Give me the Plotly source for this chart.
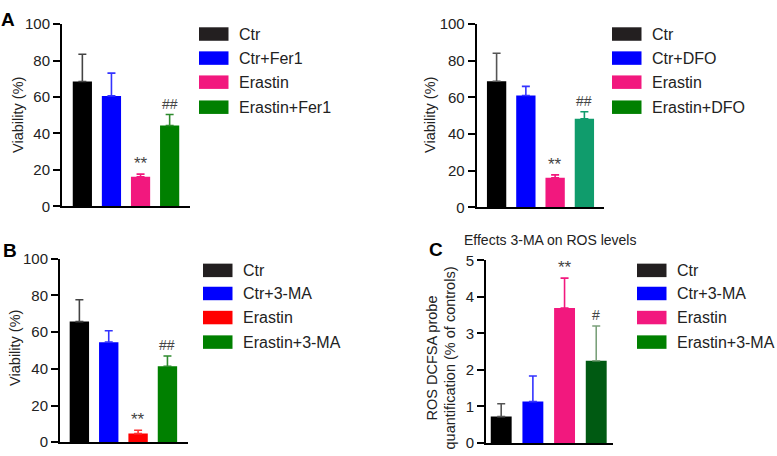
import plotly.graph_objects as go

W, H = 777, 456

# ---------------- data ----------------
cats_fer = ["Ctr", "Ctr+Fer1", "Erastin", "Erastin+Fer1"]
viab_fer = [68.5, 60.6, 16.2, 44.4]
err_fer = [15.0, 12.5, 1.5, 6.0]

cats_dfo = ["Ctr", "Ctr+DFO", "Erastin", "Erastin+DFO"]
viab_dfo = [68.8, 61.0, 16.1, 48.3]
err_dfo = [15.3, 5.0, 1.6, 3.9]

cats_ma = ["Ctr", "Ctr+3-MA", "Erastin", "Erastin+3-MA"]
viab_ma = [65.7, 54.5, 4.7, 41.4]
err_ma = [11.9, 6.2, 1.8, 5.6]

ros_ma = [0.72, 1.13, 3.69, 2.25]
err_ros = [0.35, 0.70, 0.82, 0.95]

sig_fer = ["", "", "**", "##"]
sig_dfo = ["", "", "**", "##"]
sig_ma = ["", "", "**", "##"]
sig_ros = ["", "", "**", "#"]

y_ticks_viab = [0, 20, 40, 60, 80, 100]
y_ticks_ros = [0, 1, 2, 3, 4, 5]

# ---------------- styles ----------------
FONT = "Liberation Sans, Arial, sans-serif"
TXT = "#222222"

def px(x):
    return x / W

def py(y):
    return 1 - y / H

panels = [
    dict(cats=cats_fer, vals=viab_fer, errs=err_fer, sig=sig_fer,
         bar_colors=["#000000", "#0000FF", "#F2187E", "#008000"],
         err_colors=["#444444", "#3333FF", "#F2187E", "#2E8B2E"],
         leg_colors=["#231F20", "#0000FF", "#F2187E", "#008000"],
         dom_x=[px(62), px(190)], dom_y=[py(205), py(15.7)],
         yr=[0, 100], ticks=y_ticks_viab,
         xr=[-0.7, 3.7],
         ytitle="Viability (%)", yt_pos=(18, 110),
         leg_x=199, leg_rows=[26, 51, 76, 102]),
    dict(cats=cats_dfo, vals=viab_dfo, errs=err_dfo, sig=sig_dfo,
         bar_colors=["#000000", "#0000FF", "#F2187E", "#109C6C"],
         err_colors=["#555555", "#3333FF", "#F2187E", "#109C6C"],
         leg_colors=["#231F20", "#0000FF", "#F2187E", "#008000"],
         dom_x=[px(476.7), px(604)], dom_y=[py(206), py(15.7)],
         yr=[0, 100], ticks=y_ticks_viab,
         xr=[-0.68, 3.67],
         ytitle="Viability (%)", yt_pos=(430, 110),
         leg_x=612, leg_rows=[26, 51, 76, 102]),
    dict(cats=cats_ma, vals=viab_ma, errs=err_ma, sig=sig_ma,
         bar_colors=["#000000", "#0000FF", "#FF0000", "#008000"],
         err_colors=["#444444", "#3333FF", "#FF3333", "#2E8B2E"],
         leg_colors=["#231F20", "#0000FF", "#FF0000", "#008000"],
         dom_x=[px(60), px(188)], dom_y=[py(450), py(259.3)],
         yr=[0, 100], ticks=y_ticks_viab,
         xr=[-0.66, 3.7],
         ytitle="Viability (%)", yt_pos=(15, 352),
         leg_x=203, leg_rows=[271.5, 295.5, 320.5, 346]),
    dict(cats=cats_ma, vals=ros_ma, errs=err_ros, sig=sig_ros,
         bar_colors=["#000000", "#0000FF", "#F2187E", "#005A12"],
         err_colors=["#555555", "#3333FF", "#F2187E", "#7AA07A"],
         leg_colors=["#231F20", "#0000FF", "#F2187E", "#008000"],
         dom_x=[px(486), px(612.7)], dom_y=[py(450.7), py(261)],
         yr=[0, 5], ticks=y_ticks_ros,
         xr=[-0.48, 3.52],
         ytitle="ROS DCFSA probe<br>quantification (% of controls)", yt_pos=(441, 363),
         leg_x=637, leg_rows=[271.5, 295.5, 320.5, 346]),
]

fig = go.Figure()
annotations = []
shapes = []

for i, p in enumerate(panels):
    n = i + 1
    xa = "x" if n == 1 else f"x{n}"
    ya = "y" if n == 1 else f"y{n}"
    for j, c in enumerate(p["cats"]):
        fig.add_trace(go.Bar(
            x=[j], y=[p["vals"][j]], width=0.66,
            marker=dict(color=p["bar_colors"][j], line=dict(width=0)),
            error_y=dict(type="data", symmetric=False,
                         array=[p["errs"][j]], arrayminus=[0],
                         color=p["err_colors"][j], thickness=1.6, width=4),
            xaxis=xa, yaxis=ya, showlegend=False, name=c,
            hoverinfo="skip",
        ))
        s = p["sig"][j]
        if s:
            top = p["vals"][j] + p["errs"][j]
            is_star = "*" in s
            annotations.append(dict(
                x=j, y=top, xref=xa, yref=ya, text=s, showarrow=False,
                yanchor="bottom", yshift=-1 if is_star else 1,
                font=dict(family=FONT, size=17 if is_star else 14, color="#444444"),
            ))
    axis_x = dict(domain=p["dom_x"], range=p["xr"], showline=True, linewidth=2,
                  linecolor="black", showticklabels=False, ticks="",
                  showgrid=False, zeroline=False, fixedrange=True)
    axis_y = dict(domain=p["dom_y"], range=p["yr"], showline=True, linewidth=2,
                  linecolor="black", ticks="outside", ticklen=7, tickwidth=2,
                  tickcolor="black", tickvals=p["ticks"], showgrid=False,
                  zeroline=False, tickfont=dict(family=FONT, size=15, color=TXT),
                  fixedrange=True)
    axis_x["anchor"] = ya
    axis_y["anchor"] = xa
    fig.update_layout(**{("xaxis" if n == 1 else f"xaxis{n}"): axis_x,
                         ("yaxis" if n == 1 else f"yaxis{n}"): axis_y})
    # axis title
    annotations.append(dict(
        x=px(p["yt_pos"][0]), y=py(p["yt_pos"][1]), xref="paper", yref="paper",
        text=p["ytitle"], textangle=-90, showarrow=False,
        xanchor="center", yanchor="middle",
        font=dict(family=FONT, size=14.5, color=TXT),
    ))
    # legend
    for j, c in enumerate(p["cats"]):
        yc = p["leg_rows"][j]
        shapes.append(dict(type="rect", xref="paper", yref="paper",
                           x0=px(p["leg_x"]), x1=px(p["leg_x"] + 29.5),
                           y0=py(yc + 7), y1=py(yc - 7),
                           fillcolor=p["leg_colors"][j], line=dict(width=0)))
        annotations.append(dict(
            x=px(p["leg_x"] + 38), y=py(yc), xref="paper", yref="paper",
            text=c, showarrow=False, xanchor="left", yanchor="middle",
            font=dict(family=FONT, size=16, color=TXT),
        ))

# panel letters and title
for letter, (lx, ly) in {"A": (7.5, 11), "B": (9.5, 250.5), "C": (436, 250)}.items():
    annotations.append(dict(x=px(lx), y=py(ly), xref="paper", yref="paper",
                            text=f"<b>{letter}</b>", showarrow=False,
                            xanchor="center", yanchor="middle",
                            font=dict(family=FONT, size=19, color="black")))
annotations.append(dict(x=px(461.5), y=py(239.5), xref="paper", yref="paper",
                        text="Effects 3-MA on ROS levels", showarrow=False,
                        xanchor="left", yanchor="middle",
                        font=dict(family=FONT, size=14, color=TXT)))

fig.update_layout(
    width=W, height=H, margin=dict(l=0, r=0, t=0, b=0),
    paper_bgcolor="white", plot_bgcolor="white",
    barmode="overlay", showlegend=False,
    annotations=annotations, shapes=shapes,
)

fig.write_html("out.html", config={"displayModeBar": False},
               post_script="document.body.style.margin='0px';document.body.style.overflow='hidden';")
